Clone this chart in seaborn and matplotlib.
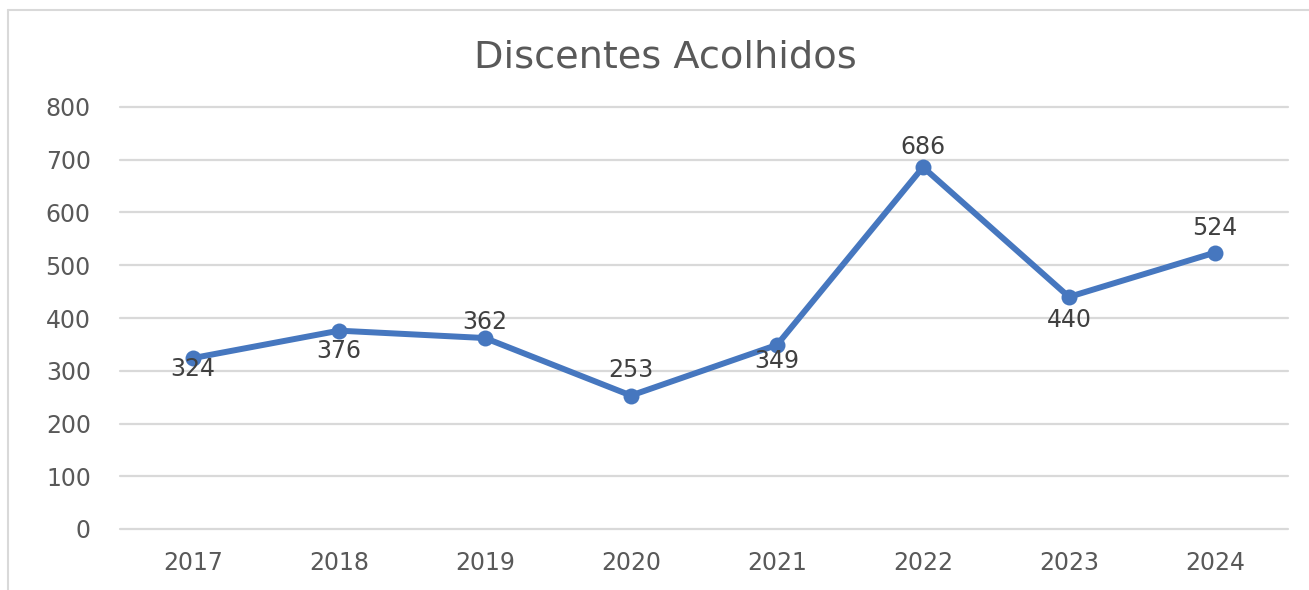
import matplotlib
matplotlib.use("Agg")
import matplotlib.pyplot as plt
from matplotlib.lines import Line2D
import seaborn as sns
import pandas as pd

anos = ["2017", "2018", "2019", "2020", "2021", "2022", "2023", "2024"]
discentes = [324, 376, 362, 253, 349, 686, 440, 524]
yticks = [0, 100, 200, 300, 400, 500, 600, 700, 800]
titulo = "Discentes Acolhidos"

# label vertical offsets (pixels, positive = above)
label_dy_px = [-11, -20, 16, 26, -16, 20, -23, 25]

sns.set_theme(style="white")
plt.rcParams["font.family"] = ["DejaVu Sans"]

DPI = 100
fig = plt.figure(figsize=(13.09, 5.90), dpi=DPI)
fig.patch.set_facecolor("white")
ax = fig.add_axes([120 / 1309, (590 - 529) / 590, (1288 - 120) / 1309, (529 - 107) / 590])

df = pd.DataFrame({"ano": anos, "valor": discentes})
blue = "#4677BF"
sns.lineplot(data=df, x="ano", y="valor", ax=ax, color=blue, linewidth=4.3,
             marker="o", markersize=11.5, markeredgewidth=0, sort=False, zorder=3)

ax.set_xlim(-0.5, len(anos) - 0.5)
ax.set_ylim(0, 800)
ax.set_yticks(yticks)
ax.set_yticklabels([str(v) for v in yticks])
ax.set_xlabel("")
ax.set_ylabel("")
for s in ax.spines.values():
    s.set_visible(False)
ax.grid(axis="y", color="#d9d9d9", linewidth=1.6, zorder=0)
ax.grid(axis="x", visible=False)
for gl in ax.get_ygridlines():
    gl.set_clip_on(False)
ax.tick_params(axis="y", length=0, pad=21, labelsize=17, labelcolor="#595959")
ax.tick_params(axis="x", length=0, pad=16, labelsize=17, labelcolor="#595959")

for i, (a, v) in enumerate(zip(anos, discentes)):
    ax.annotate(str(v), xy=(i, v), xytext=(0, label_dy_px[i] * 0.72),
                textcoords="offset points", ha="center", va="center",
                fontsize=17, color="#404040", zorder=4)

fig.text(665 / 1309, 1 - 57 / 590, titulo, ha="center", va="center",
         fontsize=27.5, color="#595959")

# chart area border (left and top edges visible)
fig.add_artist(Line2D([8 / 1309, 8 / 1309], [0, 1 - 10 / 590],
                      transform=fig.transFigure, color="#d9d9d9", linewidth=1.5))
fig.add_artist(Line2D([8 / 1309, 1], [1 - 10 / 590, 1 - 10 / 590],
                      transform=fig.transFigure, color="#d9d9d9", linewidth=1.5))

fig.savefig("out.png", dpi=DPI, facecolor="white")
